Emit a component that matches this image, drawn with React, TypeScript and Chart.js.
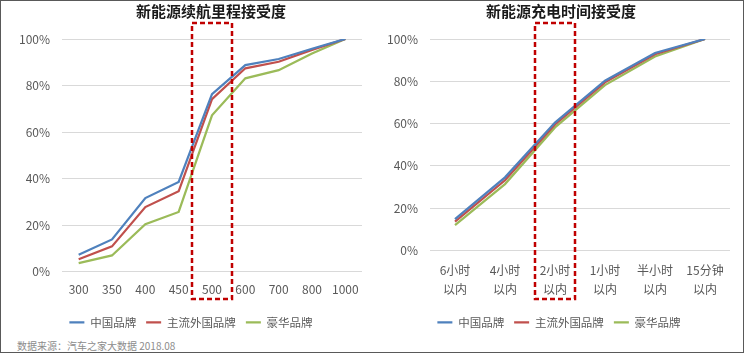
import React, { useEffect, useRef } from "react";
import { Chart, registerables } from "chart.js";

Chart.register(...registerables);

const FONT = '"Noto Sans CJK SC", "Noto Sans", sans-serif';

const seriesNames = ["中国品牌", "主流外国品牌", "豪华品牌"];
const seriesColors = ["#4F81BD", "#C0504D", "#9BBB59"];

const rangeTitle = "新能源续航里程接受度";
const rangeLabels = ["300", "350", "400", "450", "500", "600", "700", "800", "1000"];
const rangeChina = [7.2, 13.8, 31.6, 38.5, 76.3, 88.8, 91.4, 95.8, 100];
const rangeForeign = [5.3, 10.8, 27.7, 34.5, 74.1, 87.4, 90.2, 95.3, 100];
const rangeLuxury = [3.6, 6.9, 20.3, 25.6, 67.2, 83.1, 86.6, 93.8, 100];
const rangeHighlight = "500";

const chargeTitle = "新能源充电时间接受度";
const chargeLabels = [
  ["6小时", "以内"],
  ["4小时", "以内"],
  ["2小时", "以内"],
  ["1小时", "以内"],
  ["半小时", "以内"],
  ["15分钟", "以内"],
];
const chargeChina = [14.8, 34.6, 60.5, 80.3, 93.4, 100];
const chargeForeign = [13.6, 33.2, 59.6, 79.5, 92.8, 100];
const chargeLuxury = [12.0, 31.4, 58.2, 78.2, 91.7, 100];
const chargeHighlight = 2;

const yMin = 0;
const yMax = 100;
const yStep = 20;

const sourceText = "数据来源：汽车之家大数据 2018.08";

type Props = {
  labels: any[];
  series: number[][];
  highlightIndex: number;
  padLeft: number;
  padRight: number;
  xAxisHeight: number;
  tickPad: number;
};

function LineChart({ labels, series, highlightIndex, padLeft, padRight, xAxisHeight, tickPad }: Props) {
  const ref = useRef<HTMLCanvasElement | null>(null);
  useEffect(() => {
    if (!ref.current) return;
    const boxPlugin = {
      id: "box",
      afterDraw(chart: any) {
        const ctx = chart.ctx;
        const xs = chart.scales.x;
        const cx = xs.getPixelForValue(highlightIndex);
        ctx.save();
        ctx.strokeStyle = "#C00000";
        ctx.lineWidth = 2.5;
        ctx.setLineDash([5, 3]);
        ctx.strokeRect(cx - 20, 23, 40, 276);
        ctx.restore();
      },
    };
    const chart = new Chart(ref.current, {
      type: "line",
      data: {
        labels,
        datasets: series.map((d, i) => ({
          label: seriesNames[i],
          data: d,
          borderColor: seriesColors[i],
          backgroundColor: seriesColors[i],
          borderWidth: 2.25,
          pointRadius: 0,
          pointStyle: "line",
          tension: 0,
          fill: false,
        })),
      },
      options: {
        animation: false,
        responsive: false,
        maintainAspectRatio: false,
        layout: { padding: { left: padLeft, right: padRight, top: 39, bottom: 0 } },
        plugins: {
          title: { display: false },
          tooltip: { enabled: false },
          legend: {
            position: "bottom",
            labels: {
              usePointStyle: true,
              pointStyleWidth: 15,
              boxHeight: 11,
              padding: 10,
              color: "#595959",
              font: { family: FONT, size: 11.5 },
            },
          },
        },
        scales: {
          x: {
            offset: true,
            grid: { display: false, drawTicks: false, offset: true },
            border: { display: false },
            ticks: {
              color: "#595959",
              font: { family: FONT, size: 12, lineHeight: 1.6 },
              padding: tickPad,
              autoSkip: false,
              maxRotation: 0,
            },
            afterFit: (s: any) => {
              s.height = xAxisHeight;
            },
          },
          y: {
            min: yMin,
            max: yMax,
            grid: { color: "#D9D9D9", lineWidth: 1, drawTicks: false },
            border: { display: false },
            ticks: {
              stepSize: yStep,
              color: "#595959",
              font: { family: FONT, size: 12 },
              padding: 12,
              callback: (v: any) => v + "%",
            },
            afterFit: (s: any) => {
              s.width = 42;
            },
          },
        },
      },
      plugins: [boxPlugin],
    } as any);
    return () => chart.destroy();
  }, []);
  return <canvas ref={ref} width={372} height={338} style={{ width: 372, height: 338, display: "block" }} />;
}

export default function App() {
  const titleStyle: React.CSSProperties = {
    position: "absolute",
    top: 2,
    width: 200,
    textAlign: "center",
    fontFamily: FONT,
    fontWeight: 700,
    fontSize: 15,
    lineHeight: "18px",
    color: "#1a1a1a",
  };
  return (
    <div style={{ position: "absolute", left: 0, top: 0, width: 744, height: 353, background: "#fff", overflow: "hidden" }}>
      <div style={{ position: "absolute", left: 0, top: 0 }}>
        <LineChart
          labels={rangeLabels}
          series={[rangeChina, rangeForeign, rangeLuxury]}
          highlightIndex={rangeLabels.indexOf(rangeHighlight)}
          padLeft={20}
          padRight={10}
          xAxisHeight={35}
          tickPad={8}
        />
      </div>
      <div style={{ position: "absolute", left: 372, top: 0 }}>
        <LineChart
          labels={chargeLabels}
          series={[chargeChina, chargeForeign, chargeLuxury]}
          highlightIndex={chargeHighlight}
          padLeft={16}
          padRight={14}
          xAxisHeight={56}
          tickPad={10}
        />
      </div>
      <div style={{ ...titleStyle, left: 111 }}>{rangeTitle}</div>
      <div style={{ ...titleStyle, left: 461 }}>{chargeTitle}</div>
      <div
        style={{
          position: "absolute",
          left: 17,
          top: 339,
          fontFamily: FONT,
          fontSize: 10,
          lineHeight: "14px",
          color: "#8C8C8C",
          whiteSpace: "nowrap",
        }}
      >
        {sourceText}
      </div>
      <div
        style={{
          position: "absolute",
          left: 0,
          top: 0,
          width: 744,
          height: 353,
          boxSizing: "border-box",
          border: "1px solid #595959",
          pointerEvents: "none",
        }}
      />
    </div>
  );
}
